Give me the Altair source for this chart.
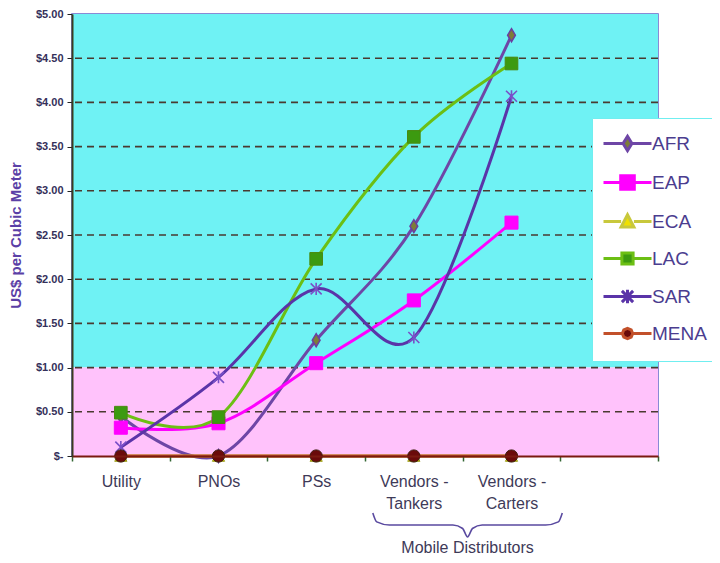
import altair as alt
import pandas as pd

# ---------------- data ----------------
categories = ["Utility", "PNOs", "PSs", "Vendors - Tankers", "Vendors - Carters"]
empty_slot = [" "]
series = ["AFR", "EAP", "ECA", "LAC", "SAR", "MENA"]
afr = [0.45, 0.00, 1.31, 2.60, 4.76]
eap = [0.32, 0.37, 1.05, 1.76, 2.64]
eca = [0.00, 0.00, 0.00, 0.00, 0.00]
lac = [0.49, 0.44, 2.23, 3.61, 4.44]
sar = [0.10, 0.89, 1.89, 1.34, 4.07]
mena = [0.00, 0.00, 0.00, 0.00, 0.00]
y_ticks = [0, 0.5, 1, 1.5, 2, 2.5, 3, 3.5, 4, 4.5, 5]
band_lo = [1, 0]
band_hi = [5, 1]
band_name = ["high", "low"]
group_label = ["Mobile Distributors"]
group_cat = ["Vendors - Carters"]
group_off = [0.05]
group_y = [-1.097]
brace_cat = ["Vendors - Tankers"] * 4 + ["Vendors - Carters"] * 6 + [" "]
brace_off = [0.08, 0.12, 0.25, 0.90, 0.00, 0.05, 0.10, 0.20, 0.85, 0.98, 0.02]
brace_y = [-0.645, -0.745, -0.78, -0.78, -0.82, -0.916, -0.82, -0.78, -0.78, -0.745, -0.645]

values = [afr, eap, eca, lac, sar, mena]
rows = []
for s, vals in zip(series, values):
    for c, v in zip(categories, vals):
        rows.append({"series": s, "cat": c, "value": v})
df = pd.DataFrame(rows)
bg_df = pd.DataFrame({"lo": band_lo, "hi": band_hi, "band": band_name})
tick_df = pd.DataFrame({"value": y_ticks})
brace_df = pd.DataFrame({"cat": brace_cat, "off": brace_off, "value": brace_y,
                         "i": list(range(len(brace_y)))})
label_df = pd.DataFrame({"cat": group_cat, "off": group_off, "value": group_y, "t": group_label})

# ---------------- styles ----------------
FONT = "Liberation Sans"
line_colors = ["#6e46a6", "#ff00ff", "#c8c83c", "#6cbf14", "#5a34a8", "#c2502a"]
marker_fills = ["#7d7d38", "#ff00ff", "#f0e000", "#3c9a10", "#7a50c8", "#6a0a0a"]
legend_paths = [
    "M-3,0L-0.55,0M0.55,0L3,0M0,-0.9L0.55,0L0,0.9L-0.55,0Z",
    "M-3,0L-0.85,0M0.85,0L3,0M-0.85,-0.85L0.85,-0.85L0.85,0.85L-0.85,0.85Z",
    "M-3,0L-0.8,0M0.8,0L3,0M0,-0.85L0.8,0.7L-0.8,0.7Z",
    "M-3,0L-0.7,0M0.7,0L3,0M-0.7,-0.7L0.7,-0.7L0.7,0.7L-0.7,0.7Z",
    "M-3,0L3,0M-0.7,-0.7L0.7,0.7M-0.7,0.7L0.7,-0.7M0,-0.85L0,0.85",
    "M-3,0L-0.65,0M0.65,0L3,0M-0.65,0L-0.46,-0.46L0,-0.65L0.46,-0.46L0.65,0L0.46,0.46L0,0.65L-0.46,0.46Z",
]
point_styles = {
    "AFR": dict(shape="M0,-1L0.6,0L0,1L-0.6,0Z", size=169, filled=True, fill="#7d7d38", stroke="#6a3fa0", strokeWidth=1.5),
    "EAP": dict(shape="square", size=170, filled=True, fill="#ff00ff", stroke="#ff00ff", strokeWidth=1),
    "ECA": dict(shape="triangle-up", size=150, filled=True, fill="#f0e000", stroke="#9a9a20", strokeWidth=1),
    "LAC": dict(shape="square", size=160, filled=True, fill="#3c9a10", stroke="#4a8a10", strokeWidth=1),
    "SAR": dict(shape="M-1,-1L1,1M-1,1L1,-1M0,-1.1L0,1.1", size=121, filled=False, stroke="#7a50c8", strokeWidth=1.6),
    "MENA": dict(shape="circle", size=150, filled=True, fill="#6a0a0a", stroke="#3a1a0a", strokeWidth=1),
}

yscale = alt.Scale(domain=[0, 5], nice=False, zero=False)
yaxis = alt.Axis(
    values=y_ticks,
    labelExpr="datum.value == 0 ? '$-' : '$' + format(datum.value, '.2f')",
    labelFont=FONT, labelFontSize=11, labelFontWeight="bold", labelColor="#34305a",
    labelPadding=4, tickSize=5, tickColor="#222222",
    domainColor="#3c3c20", domainWidth=2,
    grid=False, zindex=1,
    title="US$ per Cubic Meter", titleFont=FONT, titleFontSize=15,
    titleFontWeight="bold", titleColor="#5b3fa6", titlePadding=12,
)
xscale = alt.Scale(domain=categories + empty_slot, paddingInner=0, paddingOuter=0)
xaxis = alt.Axis(
    title=None, tickBand="extent", labelAngle=0,
    labelExpr="indexof(datum.label, ' - ') > 0 ? [substring(datum.label, 0, indexof(datum.label, ' - ') + 2), substring(datum.label, indexof(datum.label, ' - ') + 3)] : datum.label",
    labelFont=FONT, labelFontSize=16, labelColor="#3e3a58", labelLineHeight=22,
    labelPadding=12, tickSize=5, tickColor="#336633", tickWidth=1.5,
    domainColor="#7a1a10", domainWidth=2, grid=False, zindex=1,
)
x_enc = alt.X("cat:N", scale=xscale, axis=xaxis)
y_enc = alt.Y("value:Q", scale=yscale, axis=yaxis)
off_enc = alt.XOffset("off:Q", scale=alt.Scale(domain=[0, 1], nice=False, zero=False))

legend_spec = alt.Legend(
    orient="none", legendX=520, legendY=104, title=None,
    fillColor="white", strokeColor="#70eef0", padding=16,
    labelFont=FONT, labelFontSize=19, labelColor="#4b3d8f",
    symbolSize=256, symbolStrokeWidth=3, symbolOffset=10, labelOffset=15,
    rowPadding=12,
)

# ---------------- layers ----------------
bg_high = alt.Chart(bg_df).transform_filter(alt.datum.band == "high").mark_rect(
    fill="#6ff2f4", opacity=1
).encode(y=alt.Y("lo:Q", scale=yscale, axis=yaxis), y2="hi:Q")
bg_low = alt.Chart(bg_df).transform_filter(alt.datum.band == "low").mark_rect(
    fill="#ffc2fb", opacity=1
).encode(y=alt.Y("lo:Q", scale=yscale, axis=yaxis), y2="hi:Q")

grid = alt.Chart(tick_df).transform_filter("datum.value > 0 && datum.value < 5").mark_rule(
    stroke="#4a3a30", strokeDash=[7, 5], strokeWidth=1.6
).encode(y=y_enc)

lines = alt.Chart(df).mark_line(interpolate="cardinal", strokeWidth=3).encode(
    x=x_enc, y=y_enc,
    color=alt.Color("series:N", scale=alt.Scale(domain=series, range=line_colors), legend=legend_spec),
)

point_layers = []
for s in series:
    st = point_styles[s]
    point_layers.append(
        alt.Chart(df).transform_filter(alt.datum.series == s).mark_point(opacity=1, **st).encode(
            x=x_enc, y=y_enc
        )
    )

legend_layer = alt.Chart(df).transform_filter("datum.value < -100").mark_point(
    filled=True, opacity=1, strokeWidth=3
).encode(
    x=x_enc, y=y_enc,
    shape=alt.Shape("series:N", scale=alt.Scale(domain=series, range=legend_paths), legend=legend_spec),
    fill=alt.Fill("series:N", scale=alt.Scale(domain=series, range=marker_fills), legend=legend_spec),
    stroke=alt.Stroke("series:N", scale=alt.Scale(domain=series, range=line_colors), legend=legend_spec),
)

brace = alt.Chart(brace_df).mark_line(interpolate="monotone", stroke="#5a4aa0", strokeWidth=1.6).encode(
    x=x_enc, xOffset=off_enc, y=y_enc, order=alt.Order("i:Q"),
)
brace_text = alt.Chart(label_df).mark_text(
    font=FONT, fontSize=16, color="#3e3a58", baseline="alphabetic", align="center"
).encode(x=x_enc, xOffset=off_enc, y=y_enc, text="t:N")

chart = alt.layer(
    bg_high, bg_low, grid, lines, *point_layers, legend_layer, brace, brace_text
).properties(
    width=586, height=442,
    autosize=alt.AutoSizeParams(type="none"),
    padding={"left": 64, "top": 6, "right": 54, "bottom": 99},
).configure_view(stroke="#6464c8", strokeWidth=1.5)

chart.save("out.html", embed_options={"renderer": "svg", "actions": False})
